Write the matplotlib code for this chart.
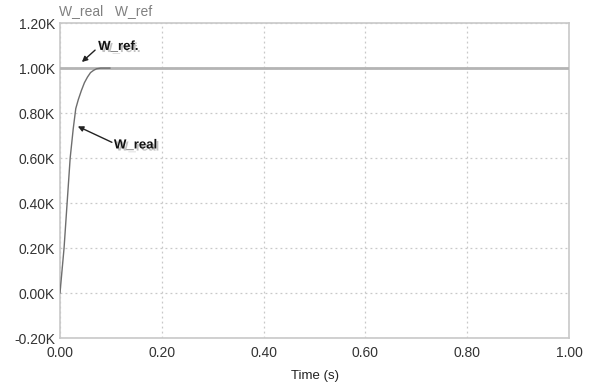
import matplotlib
matplotlib.use("Agg")
import matplotlib.pyplot as plt
import matplotlib.patheffects as pe
from matplotlib.ticker import FuncFormatter

# Data (values in K)
t_ref = [0.0, 1.0]
w_ref = [1.0, 1.0]
t_real = [0.0, 0.004, 0.008, 0.014, 0.020, 0.026, 0.031, 0.036, 0.042, 0.048,
          0.054, 0.060, 0.066, 0.072, 0.080, 0.090, 0.098]
w_real = [0.0, 0.10, 0.20, 0.40, 0.60, 0.73, 0.82, 0.86, 0.90, 0.935,
          0.96, 0.98, 0.99, 0.997, 1.0, 1.0, 1.0]
x_ticks = [0.0, 0.2, 0.4, 0.6, 0.8, 1.0]
y_ticks = [-0.2, 0.0, 0.2, 0.4, 0.6, 0.8, 1.0, 1.2]

plt.rcParams['font.family'] = ['Liberation Sans', 'DejaVu Sans']

fig = plt.figure(figsize=(5.91, 3.85), dpi=100)
ax = fig.add_axes([0.1015, 0.122, 0.8613, 0.818])

ax.plot(t_ref, w_ref, color='#b4b4b4', lw=2.0, zorder=3)
ax.plot(t_real, w_real, color='#6e6e6e', lw=1.0, zorder=4)

ax.set_xlim(0, 1.0)
ax.set_ylim(-0.2, 1.2)
ax.set_xticks(x_ticks)
ax.set_yticks(y_ticks)
ax.xaxis.set_major_formatter(FuncFormatter(lambda v, p: f"{v:.2f}"))
ax.yaxis.set_major_formatter(FuncFormatter(lambda v, p: f"{v:.2f}K"))
ax.tick_params(axis='y', length=0, labelsize=10, labelcolor='#333333', pad=3.5)
ax.tick_params(axis='x', length=0, labelsize=10, labelcolor='#333333', pad=6)
ax.grid(True, color='#c8c8c8', linestyle=(0, (1.5, 2.5)), lw=0.9)
for s in ax.spines.values():
    s.set_color('#c8c8c8')
    s.set_linewidth(1.2)

ax.set_xlabel('Time (s)', fontsize=9.5, color='#222222', labelpad=7)

fig.text(0.100, 0.972, 'W_real   W_ref', fontsize=10, color='#808080', ha='left', va='center')

shadow = [pe.withSimplePatchShadow(offset=(1.5, -1.5), shadow_rgbFace='#999999', alpha=0.6)]
arrow = dict(arrowstyle='-|>', color='#222222', lw=1.0, mutation_scale=8, shrinkA=0, shrinkB=0)

ax.annotate('', xy=(0.043, 1.027), xytext=(0.069, 1.080), arrowprops=arrow)
ax.text(0.075, 1.094, 'W_ref.', fontsize=9.5, fontweight='bold', color='#111111',
        ha='left', va='center', path_effects=shadow)

ax.annotate('', xy=(0.035, 0.741), xytext=(0.102, 0.670), arrowprops=arrow)
ax.text(0.106, 0.656, 'W_real', fontsize=9.5, fontweight='bold', color='#111111',
        ha='left', va='center', path_effects=shadow)

fig.savefig('out.png', dpi=100)
